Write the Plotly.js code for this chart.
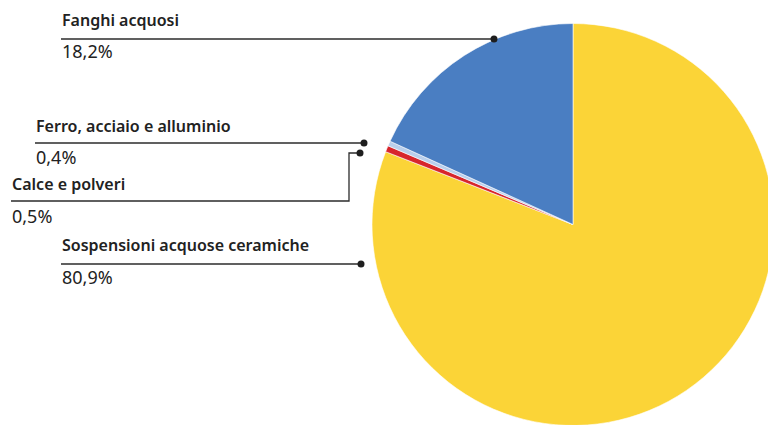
<!DOCTYPE html>
<html>
<head>
<meta charset="utf-8">
<script src="https://cdn.plot.ly/plotly-3.0.1.min.js"></script>
<style>
html,body{margin:0;padding:0;overflow:hidden;background:#fff;width:768px;height:425px;}
#chart{width:780px;height:430px;}
</style>
</head>
<body>
<div id="chart"></div>
<script>
// Data (clockwise from 12 o'clock)
const categories = ["Sospensioni acquose ceramiche", "Calce e polveri", "Ferro, acciaio e alluminio", "Fanghi acquosi"];
const values = [80.9, 0.5, 0.4, 18.2];
const colors = ["#FBD437", "#D7262C", "#B9CFEC", "#4A7EC2"];

const W = 780, H = 430;
const px = x => x / W;
const py = y => 1 - y / H;

// Pie geometry (pixels)
const cx = 573, cy = 224.5, r = 201;

// Label layout (pixels): text x, label y, rule y, value y, dot x, dot y, optional elbow
const labelLayout = [
  {x: 61, ty: 245, ly: 264, vy: 277, dx: 361, dy: 264},
  {x: 11, ty: 184, ly: 201, vy: 216, dx: 360, dy: 153, elbowX: 349},
  {x: 35, ty: 126, ly: 143, vy: 157, dx: 364, dy: 143},
  {x: 61, ty: 20, ly: 39, vy: 51, dx: 494, dy: 39}
];

const fmt = v => v.toFixed(1).replace('.', ',') + '%';

const annotations = [];
const shapes = [];
const lineColor = '#2b2b2b';
categories.forEach((c, i) => {
  const L = labelLayout[i];
  annotations.push({
    xref: 'paper', yref: 'paper', x: px(L.x - 1), y: py(L.ty), xanchor: 'left', yanchor: 'middle',
    text: c, showarrow: false,
    font: {family: 'Noto Sans, Open Sans, sans-serif', size: 16, color: '#222', weight: 600}
  });
  annotations.push({
    xref: 'paper', yref: 'paper', x: px(L.x - 1.5), y: py(L.vy), xanchor: 'left', yanchor: 'middle',
    text: fmt(values[i]), showarrow: false,
    font: {family: 'Noto Sans, Open Sans, sans-serif', size: 18, color: '#222'}
  });
  if (L.elbowX !== undefined) {
    shapes.push({type: 'path', xref: 'paper', yref: 'paper',
      path: `M ${px(L.x)} ${py(L.ly)} L ${px(L.elbowX)} ${py(L.ly)} L ${px(L.elbowX)} ${py(L.dy)} L ${px(L.dx)} ${py(L.dy)}`,
      line: {color: lineColor, width: 1.3}});
  } else {
    shapes.push({type: 'line', xref: 'paper', yref: 'paper',
      x0: px(L.x), x1: px(L.dx), y0: py(L.ly), y1: py(L.ly),
      line: {color: lineColor, width: 1.3}});
  }
  const dr = 3.5;
  shapes.push({type: 'circle', xref: 'paper', yref: 'paper',
    x0: px(L.dx - dr), x1: px(L.dx + dr), y0: py(L.dy + dr), y1: py(L.dy - dr),
    fillcolor: '#1e1e1e', line: {width: 0}});
});

const trace = {
  type: 'pie',
  labels: categories,
  values: values,
  sort: false,
  direction: 'clockwise',
  rotation: 0,
  marker: {colors: colors, line: {color: '#ffffff', width: 0.6}},
  textinfo: 'none',
  hoverinfo: 'label+percent',
  showlegend: false,
  domain: {x: [px(cx - r), px(cx + r)], y: [py(cy + r), py(cy - r)]}
};

Plotly.newPlot('chart', [trace], {
  width: W, height: H,
  margin: {l: 0, r: 0, t: 0, b: 0},
  paper_bgcolor: '#fff',
  showlegend: false,
  annotations: annotations,
  shapes: shapes
}, {displayModeBar: false, staticPlot: true});
</script>
</body>
</html>
